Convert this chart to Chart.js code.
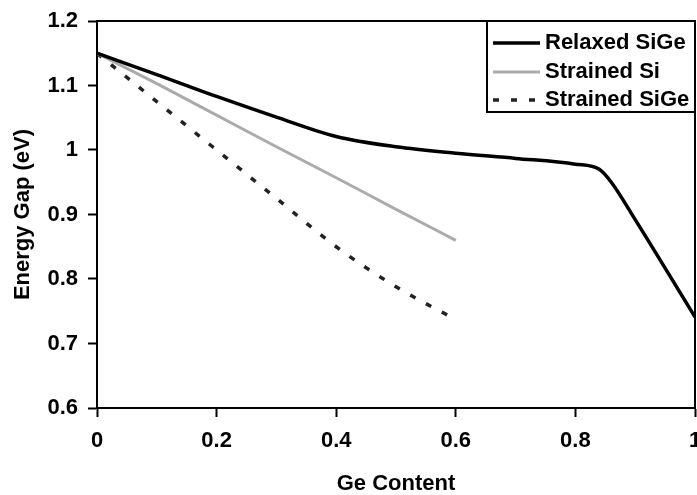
<!DOCTYPE html>
<html>
<head>
<meta charset="utf-8">
<script src="https://cdn.jsdelivr.net/npm/chart.js@4"></script>
<style>
  html, body { margin: 0; padding: 0; background: #fff; }
  canvas { display: block; }
</style>
</head>
<body>
<canvas id="gapChart" width="697" height="495"></canvas>
<script>
// Ge content values (x) and energy gaps (eV)
const relaxedX = [0, 0.1, 0.2, 0.3, 0.4, 0.5, 0.6, 0.7, 0.8, 0.84, 0.86, 0.9, 1.0];
const relaxedSiGe = [1.15, 1.117, 1.083, 1.051, 1.021, 1.005, 0.995, 0.987, 0.978, 0.97, 0.95, 0.892, 0.741];

const strainedX = [0, 0.1, 0.2, 0.3, 0.4, 0.5, 0.6];
const strainedSi = [1.15, 1.103, 1.054, 1.005, 0.957, 0.908, 0.86];
const strainedSiGe = [1.15, 1.075, 1.0, 0.925, 0.85, 0.788, 0.737];

const seriesNames = ['Relaxed SiGe', 'Strained Si', 'Strained SiGe'];
const xTicks = [0, 0.2, 0.4, 0.6, 0.8, 1];
const yTicks = [0.6, 0.7, 0.8, 0.9, 1, 1.1, 1.2];

const FONT = '"Liberation Sans", Arial, sans-serif';

function toPoints(xs, ys) {
    return xs.map((x, i) => ({ x: x, y: ys[i] }));
}

// box round the plot (top and right edges)
const frame = {
    id: 'frame',
    afterDatasetsDraw(chart) {
        const { ctx, chartArea: a } = chart;
        ctx.save();
        ctx.strokeStyle = '#000';
        ctx.lineWidth = 2;
        ctx.beginPath();
        ctx.moveTo(a.left, a.top);
        ctx.lineTo(a.right, a.top);
        ctx.lineTo(a.right, a.bottom);
        ctx.stroke();
        ctx.restore();
    }
};

// legend drawn inside the plot, top right
const innerLegend = {
    id: 'innerLegend',
    afterDraw(chart) {
        const { ctx, chartArea: a } = chart;
        const boxLeft = 487, boxBottom = 112;
        ctx.save();
        ctx.fillStyle = '#fff';
        ctx.fillRect(boxLeft, a.top, a.right - boxLeft, boxBottom - a.top);
        ctx.strokeStyle = '#000';
        ctx.lineWidth = 2;
        ctx.strokeRect(boxLeft, a.top, a.right - boxLeft, boxBottom - a.top);

        const rows = [43, 72, 100];
        chart.data.datasets.forEach((ds, i) => {
            const y = rows[i];
            ctx.strokeStyle = ds.borderColor;
            ctx.lineWidth = ds.borderWidth;
            ctx.setLineDash(ds.borderDash || []);
            ctx.beginPath();
            ctx.moveTo(493, y);
            ctx.lineTo(540, y);
            ctx.stroke();
            ctx.setLineDash([]);
            ctx.fillStyle = '#000';
            ctx.font = 'bold 22px ' + FONT;
            ctx.textAlign = 'left';
            ctx.textBaseline = 'middle';
            ctx.fillText(ds.label, 545, y);
        });
        ctx.restore();
    }
};

const ctx = document.getElementById('gapChart').getContext('2d');
new Chart(ctx, {
    type: 'line',
    data: {
        datasets: [{
            label: seriesNames[0],
            data: toPoints(relaxedX, relaxedSiGe),
            borderColor: '#000',
            borderWidth: 3.5,
            cubicInterpolationMode: 'monotone'
        }, {
            label: seriesNames[1],
            data: toPoints(strainedX, strainedSi),
            borderColor: '#ababab',
            borderWidth: 3,
            cubicInterpolationMode: 'monotone'
        }, {
            label: seriesNames[2],
            data: toPoints(strainedX, strainedSiGe),
            borderColor: '#222',
            borderWidth: 3.5,
            borderDash: [6, 12],
            cubicInterpolationMode: 'monotone'
        }]
    },
    options: {
        responsive: false,
        animation: false,
        elements: { point: { radius: 0 } },
        layout: {
            autoPadding: false,
            padding: { left: 0, top: 21, right: 2, bottom: 0 }
        },
        plugins: {
            legend: { display: false },
            tooltip: { enabled: false }
        },
        scales: {
            x: {
                type: 'linear',
                min: 0,
                max: 1,
                afterBuildTicks: axis => { axis.ticks = xTicks.map(v => ({ value: v })); },
                afterFit: scale => {
                    scale.height = 87;
                    scale.paddingLeft = 0;
                    scale.paddingRight = 0;
                },
                border: { display: true, color: '#000', width: 2 },
                grid: {
                    drawOnChartArea: false,
                    drawTicks: true,
                    tickLength: 9,
                    tickWidth: 2,
                    tickColor: '#000'
                },
                ticks: {
                    color: '#000',
                    padding: 11,
                    maxRotation: 0,
                    font: { family: FONT, size: 22, weight: 'bold' },
                    callback: v => String(+v.toFixed(1))
                },
                title: {
                    display: true,
                    text: 'Ge Content',
                    color: '#000',
                    padding: { top: 0, bottom: 0 },
                    font: { family: FONT, size: 22, weight: 'bold', lineHeight: 1 }
                }
            },
            y: {
                min: 0.6,
                max: 1.2,
                afterBuildTicks: axis => { axis.ticks = yTicks.map(v => ({ value: v })); },
                afterFit: scale => {
                    scale.width = 97;
                    scale.paddingTop = 0;
                    scale.paddingBottom = 0;
                },
                border: { display: true, color: '#000', width: 2 },
                grid: {
                    drawOnChartArea: false,
                    drawTicks: true,
                    tickLength: 9,
                    tickWidth: 2,
                    tickColor: '#000'
                },
                ticks: {
                    color: '#000',
                    padding: 10,
                    font: { family: FONT, size: 22, weight: 'bold' },
                    callback: v => String(+v.toFixed(1))
                },
                title: {
                    display: true,
                    text: 'Energy Gap (eV)',
                    color: '#000',
                    padding: { top: 10, bottom: 0 },
                    font: { family: FONT, size: 22, weight: 'bold', lineHeight: 1.2 }
                }
            }
        }
    },
    plugins: [frame, innerLegend]
});
</script>
</body>
</html>
